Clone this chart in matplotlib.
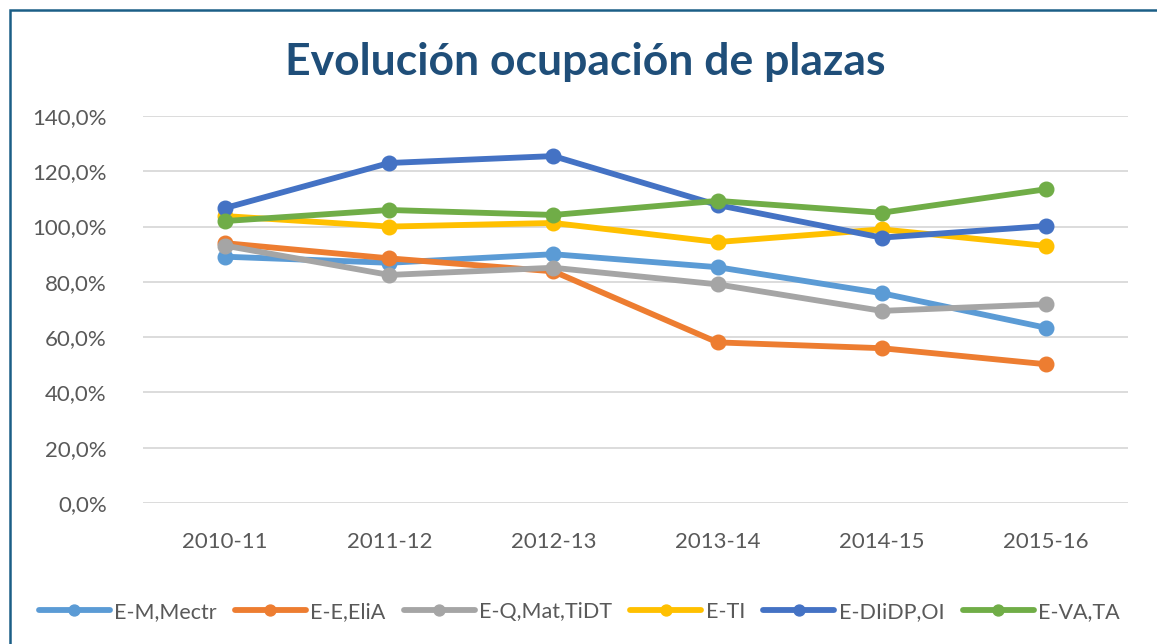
import numpy as np
import matplotlib.pyplot as plt
from matplotlib.patches import Rectangle
from matplotlib.ticker import FuncFormatter

plt.rcParams['font.family'] = ['Lato', 'DejaVu Sans']

years = ['2010-11', '2011-12', '2012-13', '2013-14', '2014-15', '2015-16']
names = ['E-M,Mectr', 'E-E,EliA', 'E-Q,Mat,TiDT', 'E-TI', 'E-DIiDP,OI', 'E-VA,TA']

e_m = [89.1, 86.9, 90.0, 85.3, 75.9, 63.4]
e_e = [94.0, 88.5, 83.8, 58.1, 56.0, 50.2]
e_q = [93.1, 82.5, 85.1, 79.1, 69.5, 71.9]
e_ti = [103.8, 100.0, 101.3, 94.4, 99.0, 93.0]
e_di = [106.7, 123.0, 125.5, 107.8, 96.0, 100.2]
e_va = [102.0, 106.0, 104.2, 109.3, 105.0, 113.5]

series = [e_m, e_e, e_q, e_ti, e_di, e_va]
colors = ['#5B9BD5', '#ED7D31', '#A5A5A5', '#FFC000', '#4472C4', '#70AD47']

fig = plt.figure(figsize=(11.57, 6.44), dpi=100)
ax = fig.add_axes([143/1157, 1-503/644, 985/1157, 387/644])

x = np.arange(len(years))
for vals, name, c in zip(series, names, colors):
    ax.plot(x, vals, color=c, lw=4.2, marker='o', ms=10.5, label=name,
            solid_capstyle='round', solid_joinstyle='round')

ax.set_xlim(-0.5, 5.5)
ax.set_ylim(0, 140)
ax.set_yticks(np.arange(0, 141, 20))
ax.yaxis.set_major_formatter(FuncFormatter(lambda v, p: ('%.1f%%' % v).replace('.', ',')))
ax.set_xticks(x)
ax.set_xticklabels(years)
ax.grid(axis='y', color='#D9D9D9', lw=1.3)
ax.set_axisbelow(True)
for s in ax.spines.values():
    s.set_visible(False)
ax.tick_params(length=0, labelsize=16, labelcolor='#595959')
ax.tick_params(axis='x', pad=21)
ax.tick_params(axis='y', pad=26)

fig.text(585/1157, 1-62/644, 'Evolución ocupación de plazas', ha='center', va='center',
         fontsize=32, fontweight='bold', color='#1F4E79')

fig.legend(loc='center', bbox_to_anchor=(0.5005, 1-612/644), ncol=6, frameon=False,
           fontsize=15.5, labelcolor='#595959', handlelength=3.3, handletextpad=0.2,
           columnspacing=0.85, markerscale=0.75)

fig.patches.append(Rectangle((10/1157, -0.2), 1.5, 1.2 - 10/644, transform=fig.transFigure,
                             fill=False, edgecolor='#1B5E86', lw=1.8))

fig.savefig('out.png', dpi=100)
